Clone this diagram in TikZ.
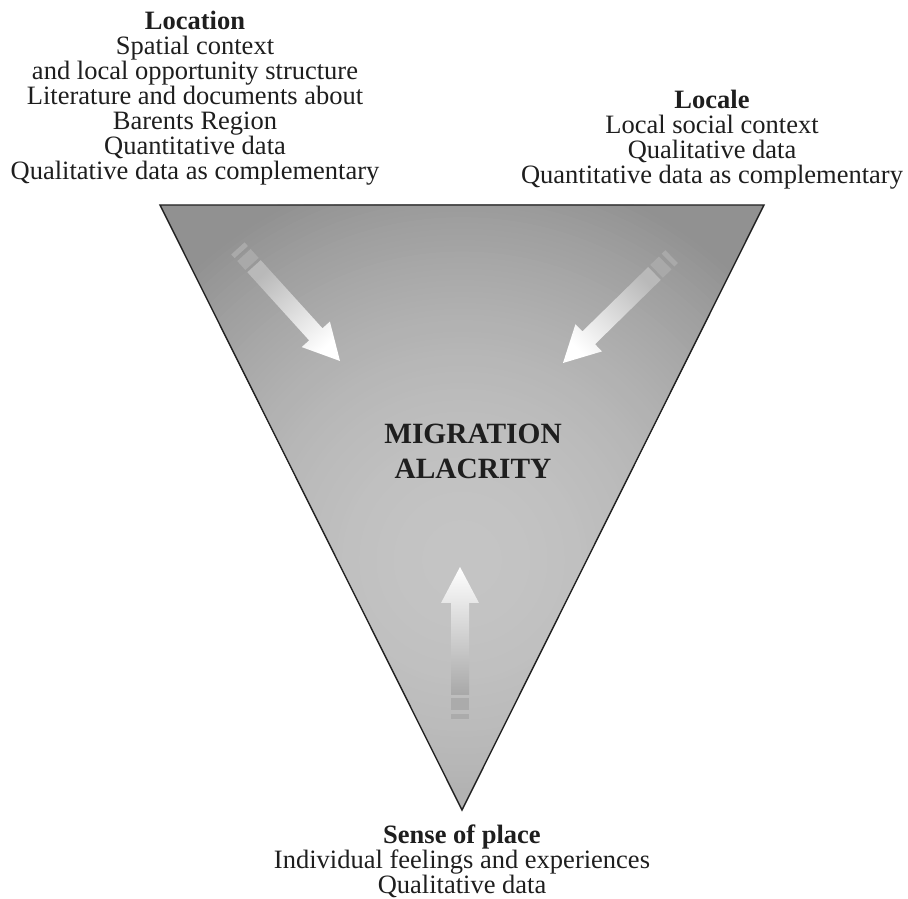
\documentclass[tikz,border=0pt]{standalone}
\usepackage{fontspec}
\setmainfont{Liberation Serif}
\definecolor{edge}{HTML}{222222}
\definecolor{ink}{HTML}{1E1E1E}
\definecolor{glowout}{HTML}{919191}
\definecolor{tailA}{HTML}{B9B9B9}
\definecolor{tailB}{HTML}{A8A8A8}
\definecolor{stripeA}{HTML}{A9A9A9}
\definecolor{stripeB}{HTML}{ABABAB}
\tikzset{
  label text/.style={align=center, text=ink, inner sep=0pt, anchor=base,
    font=\fontsize{26.5}{25}\selectfont},
  core text/.style={align=center, text=ink, inner sep=0pt, anchor=base,
    font=\fontsize{29.4}{35}\selectfont\bfseries},
  % block arrow drawn with its tip at the local origin, pointing along +x
  pics/flowarrow/.style args={#1/#2/#3}{code={
    \shade[top color=white, bottom color=#3, shading angle=#1]
      (0,0) -- (-36,19) -- (-36,9) -- (-128,9) -- (-128,-9) -- (-36,-9) -- (-36,-19) -- cycle;
    \fill[#2] (-131,-9) rectangle (-143,9);
    \fill[#2] (-147,-9) rectangle (-152,9);
  }}
}
\begin{document}
\begin{tikzpicture}[x=1pt, y=1pt]
  \useasboundingbox (0,0) rectangle (908,899);

  % corner points of the funnel
  \coordinate (tl) at (160,694);
  \coordinate (tr) at (764,694);
  \coordinate (bt) at (462,89);
  \coordinate (glowc) at (462,339);

  % funnel: dark rim, soft light towards the middle (stacked rings)
  \begin{scope}
    \clip (tl) -- (tr) -- (bt) -- cycle;
    \fill[glowout] (tl) -- (tr) -- (bt) -- cycle;
    \foreach \i in {70,69,...,1} {
      \pgfmathsetmacro\t{\i/70}
      \pgfmathsetmacro\g{(145+51*(1-\t*\t))/255}
      \definecolor{ring}{gray}{\g}
      \fill[ring] (glowc) circle ({\t*400});
    }
  \end{scope}
  \draw[edge, line width=1.4pt, line join=miter] (tl) -- (tr) -- (bt) -- cycle;

  % inward arrows
  \pic at (340,538) [rotate=-47.8] {flowarrow={-137.8/stripeA/tailA}};
  \pic at (563,536) [rotate=-135.6] {flowarrow={134.4/stripeA/tailA}};
  \pic at (460,332) [rotate=90] {flowarrow={0/stripeB/tailB}};

  % centre label
  \node[core text] (core) at (473,420) {MIGRATION\\ALACRITY};

  % corner labels
  \node[label text] (location) at (195,719) {\textbf{Location}\\Spatial context\\and local opportunity structure\\Literature and documents about\\Barents Region\\Quantitative data\\Qualitative data as complementary};
  \node[label text] (locale) at (712,715) {\textbf{Locale}\\Local social context\\Qualitative data\\Quantitative data as complementary};
  \node[label text] (sense) at (462,5) {\textbf{Sense of place}\\Individual feelings and experiences\\Qualitative data};
\end{tikzpicture}
\end{document}
